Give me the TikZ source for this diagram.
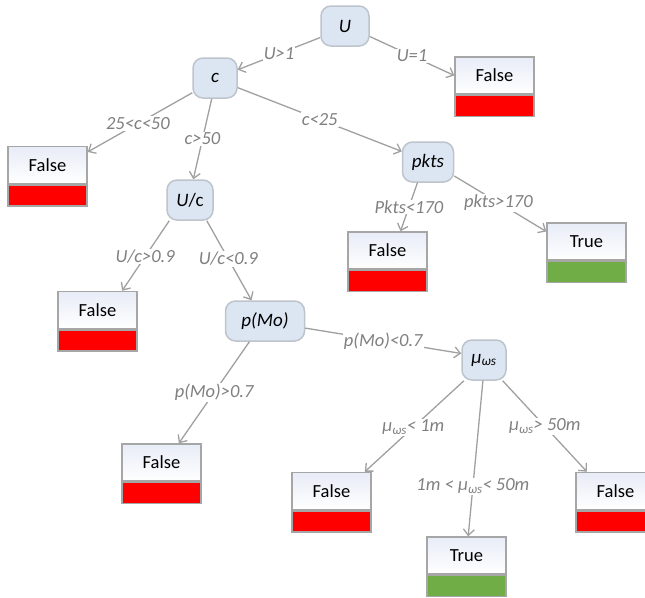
\documentclass[tikz,border=0pt]{standalone}
\usepackage{fontspec}
\setmainfont{Carlito}
\usetikzlibrary{arrows.meta}
\definecolor{nodefill}{RGB}{220,230,242}
\definecolor{nodeedge}{RGB}{190,196,204}
\definecolor{edgegray}{RGB}{160,160,160}
\definecolor{labelgray}{RGB}{128,128,128}
\definecolor{boxedge}{RGB}{166,166,166}
\definecolor{boxtop}{RGB}{232,236,247}
\definecolor{falsered}{RGB}{255,0,0}
\definecolor{truegreen}{RGB}{112,173,71}

\begin{document}
\begin{tikzpicture}[x=1pt,y=-1pt,
  test/.style={draw=nodeedge, line width=1.5pt, fill=nodefill, rounded corners=10pt,
    minimum height=40pt, inner sep=0pt, font=\fontsize{19}{22}\selectfont\itshape},
  leaf/.style={draw=boxedge, line width=1.5pt, top color=boxtop, bottom color=white,
    minimum width=79pt, minimum height=37pt, inner sep=0pt, font=\fontsize{18.5}{21}\selectfont},
  falsebar/.style={draw=boxedge, line width=1.5pt, fill=falsered,
    minimum width=79pt, minimum height=21pt, inner sep=0pt, anchor=north},
  truebar/.style={falsebar, fill=truegreen},
  branch/.style={draw=edgegray, line width=1.3pt, -{Straight Barb[length=6pt,width=11pt]}},
  cond/.style={fill=white, inner sep=1pt, text=labelgray, font=\fontsize{18.5}{21}\selectfont\itshape}
]
\clip (0,0) rectangle (645,597);

% decision nodes
\node[test, minimum width=48pt] (U)    at (345,26)  {U};
\node[test, minimum width=44pt] (c)    at (215,78)  {c};
\node[test, minimum width=46pt] (Uc)   at (190,200) {U\upshape/c};
\node[test, minimum width=51pt] (pkts) at (428,162) {pkts};
\node[test, minimum width=79pt] (Mo)   at (265,321) {p(Mo)};
\node[test, minimum width=44pt] (mu)   at (484,360) {μ\textsubscript{ωs}};

% leaves: label part plus coloured bar
\node[leaf] (fU1) at (494.5,75.5) {False};
\node[falsebar] (fU1bar) at (fU1.south) {};
\node[leaf] (f25) at (47.5,165) {False};
\node[falsebar] (f25bar) at (f25.south) {};
\node[leaf] (fpk) at (387.5,250.5) {False};
\node[falsebar] (fpkbar) at (fpk.south) {};
\node[leaf] (tpk) at (586.5,241.5) {True};
\node[truebar] (tpkbar) at (tpk.south) {};
\node[leaf] (fUc) at (97.5,310) {False};
\node[falsebar] (fUcbar) at (fUc.south) {};
\node[leaf] (fMo) at (161.5,462.5) {False};
\node[falsebar] (fMobar) at (fMo.south) {};
\node[leaf] (fm1) at (331.5,491) {False};
\node[falsebar] (fm1bar) at (fm1.south) {};
\node[leaf] (tm) at (466.5,555.5) {True};
\node[truebar] (tmbar) at (tm.south) {};
\node[leaf] (fm2) at (615.5,491) {False};
\node[falsebar] (fm2bar) at (fm2.south) {};

% branches
\draw[branch] (U.205.6) -- node[cond,pos=.5] {U>1} (c.20.9);
\draw[branch] (U.-23.7) -- node[cond,pos=.5] {U=1} (fU1.west);
\draw[branch] (c.213.7) -- node[cond,pos=.52] {25<c<50} (f25.18);
\draw[branch] (c.261.5) -- node[cond,pos=.5] {c>50} (Uc.81.9);
\draw[branch] (c.-23) -- node[cond,pos=.5] {c<25} (pkts.158);
\draw[branch] (pkts.243.4) -- node[cond,pos=.5] {Pkts<170} (fpk.56);
\draw[branch] (pkts.-28.4) -- node[cond,pos=.48] {pkts>170} (tpk.166.5);
\draw[branch] (Uc.225) -- node[cond,pos=.51] {U/c>0.9} (fUc.38.7);
\draw[branch] (Uc.-51.3) -- node[cond,pos=.48] {U/c<0.9} (Mo.123);
\draw[branch] (Mo.233) -- node[cond,pos=.5] {p(Mo)>0.7} (fMo.48.3);
\draw[branch] (Mo.-10.2) -- node[cond,pos=.5] {p(Mo)<0.7} (mu.164.7);
\draw[branch] (mu.226.6) -- node[cond,pos=.51] {μ\textsubscript{ωs}< 1m} (fm1.30.5);
\draw[branch] (mu.267) -- node[cond,pos=.68] {1m < μ\textsubscript{ωs}< 50m} (tm.85);
\draw[branch] (mu.-48.4) -- node[cond,pos=.5] {μ\textsubscript{ωs}> 50m} (fm2.146.8);
\end{tikzpicture}
\end{document}
